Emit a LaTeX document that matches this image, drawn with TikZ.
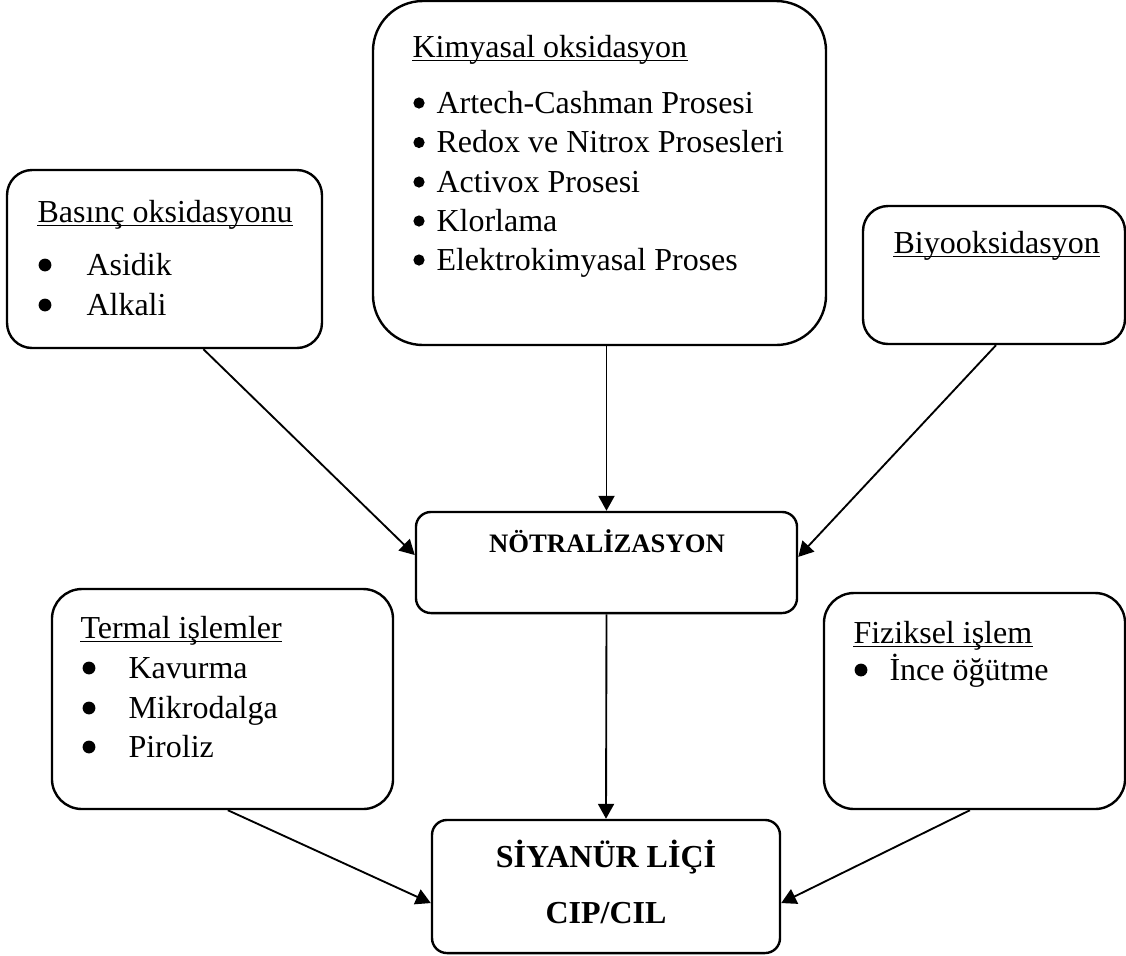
\documentclass[tikz,border=0pt]{standalone}
\usepackage{fontspec}
\setmainfont{Liberation Serif}
\usetikzlibrary{arrows.meta}
\begin{document}
\begin{tikzpicture}[x=0.375pt,y=-0.375pt,
  box/.style={draw, line width=0.9pt, rounded corners=#1, inner sep=0pt},
  arr/.style={-{Triangle[length=5.6pt,width=6pt]}, line width=0.7pt},
  txt/.style={anchor=base west, inner sep=0pt, font=\fontsize{12}{14}\selectfont},
  ctr/.style={anchor=base, inner sep=0pt},
  ul/.style={line width=0.5pt},
  bul/.style={fill=black}]
\useasboundingbox (0,0) rectangle (1126,955);
% boxes
\node[box=9.4pt,  minimum width=118.1pt, minimum height=66.75pt] (b1) at (164.5,259) {};
\node[box=18.75pt,minimum width=169.9pt, minimum height=129pt]   (b2) at (599.5,173) {};
\node[box=9.4pt,  minimum width=98.25pt, minimum height=51.75pt] (b3) at (994,275) {};
\node[box=5.6pt,  minimum width=142.9pt, minimum height=37.9pt]  (n)  at (606.5,562.5) {};
\node[box=11.25pt,minimum width=127.9pt, minimum height=82.5pt]  (b4) at (222.5,699) {};
\node[box=11.25pt,minimum width=112.9pt, minimum height=81pt]    (b5) at (974.5,701) {};
\node[box=5.6pt,  minimum width=130.5pt, minimum height=49.9pt]  (s)  at (606,886.5) {};
% Basinc
\node[txt] (t1) at (37,222) {Basınç oksidasyonu};
\draw[ul] ([yshift=-1.2pt]t1.base west) -- ([yshift=-1.2pt]t1.base east);
\fill[bul] (45,265) circle (2.4pt);
\node[txt] (t1a) at (86,275) {Asidik};
\fill[bul] (45,305) circle (2.4pt);
\node[txt] (t1b) at (86,315) {Alkali};
% Kimyasal
\node[txt] (t2) at (412,57) {Kimyasal oksidasyon};
\draw[ul] ([yshift=-1.2pt]t2.base west) -- ([yshift=-1.2pt]t2.base east);
\fill[bul] (419,103) circle (2.1pt);
\node[txt] (t2a) at (436,113) {Artech-Cashman Prosesi};
\fill[bul] (419,142.5) circle (2.1pt);
\node[txt] (t2b) at (436,152.5) {Redox ve Nitrox Prosesleri};
\fill[bul] (419,182) circle (2.1pt);
\node[txt] (t2c) at (436,192) {Activox Prosesi};
\fill[bul] (419,221) circle (2.1pt);
\node[txt] (t2d) at (436,231) {Klorlama};
\fill[bul] (419,260) circle (2.1pt);
\node[txt] (t2e) at (436,270) {Elektrokimyasal Proses};
% Biyo
\node[txt] (t3) at (893,253) {Biyooksidasyon};
\draw[ul] ([yshift=-1.2pt]t3.base west) -- ([yshift=-1.2pt]t3.base east);
% Termal
\node[txt] (t4) at (80,638) {Termal işlemler};
\draw[ul] ([yshift=-1.2pt]t4.base west) -- ([yshift=-1.2pt]t4.base east);
\fill[bul] (89,668) circle (2.4pt);
\node[txt] (t4a) at (128,678) {Kavurma};
\fill[bul] (89,708) circle (2.4pt);
\node[txt] (t4b) at (128,718) {Mikrodalga};
\fill[bul] (89,747) circle (2.4pt);
\node[txt] (t4c) at (128,757) {Piroliz};
% Fiziksel
\node[txt] (t5) at (853,643) {Fiziksel işlem};
\draw[ul] ([yshift=-1.2pt]t5.base west) -- ([yshift=-1.2pt]t5.base east);
\fill[bul] (861,670) circle (2.4pt);
\node[txt] (t5a) at (889,680) {İnce öğütme};
% center texts
\node[ctr, font=\fontsize{10}{12}\selectfont\bfseries] (nt) at (607,552) {NÖTRALİZASYON};
\node[ctr, font=\fontsize{12}{14}\selectfont\bfseries] (st1) at (606,867) {SİYANÜR LİÇİ};
\node[ctr, font=\fontsize{12}{14}\selectfont\bfseries] (st2) at (606,923) {CIP/CIL};
% arrows
\draw[arr] ([xshift=14.6pt]b1.south) -- ([yshift=2.8pt]n.west);
\draw[arr] (b2.south -| n.north) -- (n.north);
\draw[arr] ([xshift=0.75pt]b3.south) -- ([yshift=2.1pt]n.east);
\draw[arr] (n.south) -- (s.north);
\draw[arr] ([xshift=2pt]b4.south) -- ([yshift=-6.2pt]s.west);
\draw[arr] ([xshift=-1.7pt]b5.south) -- ([yshift=-6.2pt]s.east);
\end{tikzpicture}
\end{document}
